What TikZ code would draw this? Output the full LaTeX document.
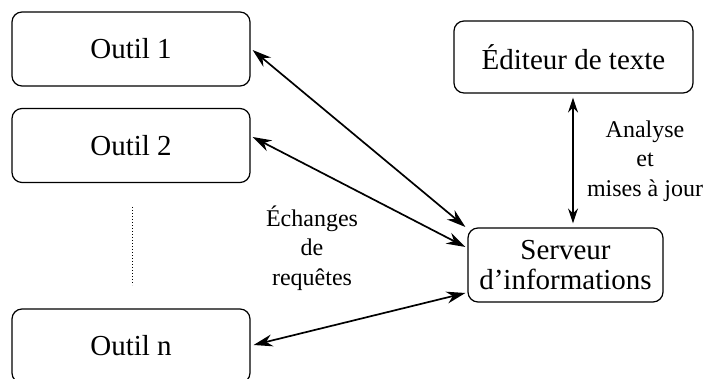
\documentclass[tikz,border=0pt]{standalone}
\usepackage{fontspec}
\setmainfont{Liberation Serif}
\usetikzlibrary{arrows.meta,calc}
\begin{document}
\begin{tikzpicture}[x=1pt,y=1pt,
  box/.style={draw,line width=1.2pt,rounded corners=10pt,minimum width=238pt,minimum height=74pt,inner sep=0pt,font=\fontsize{29}{30}\selectfont,align=center},
  lbl/.style={font=\fontsize{24}{29.5}\selectfont,align=center},
  conn/.style={line width=1.7pt,{Stealth[length=19pt,width=12pt]}-{Stealth[length=19pt,width=12pt]}}]
\useasboundingbox (0,0) rectangle (707,379);
\clip (0,0) rectangle (707,379);
\node[box] (o1) at (131,330) {Outil 1};
\node[box] (o2) at (131,233.5) {Outil 2};
\node[box] (on) at (131,33) {Outil n};
\node[box,minimum width=239pt,minimum height=72pt] (ed) at (573.5,322) {Éditeur de texte};
\node[box,minimum width=195pt,minimum height=74pt] (sv) at (565.5,114) {Serveur\\d’informations};
\coordinate (dt) at (132,172);
\coordinate (db) at (132,94);
\draw[line width=1pt,dotted] (dt) -- (db);
\draw[conn] ([xshift=2pt,yshift=-1pt]o1.east) -- ([xshift=-2pt,yshift=38pt]sv.west);
\draw[conn] ([xshift=2pt,yshift=8.5pt]o2.east) -- ([xshift=-2pt,yshift=18pt]sv.west);
\draw[conn] ([xshift=3pt,yshift=1pt]on.east) -- ([xshift=-2pt,yshift=-28pt]sv.west);
\draw[conn,{Stealth[length=15pt,width=10pt]}-{Stealth[length=15pt,width=10pt]}] ([xshift=-0.5pt,yshift=-4pt]ed.south) -- ([xshift=7.5pt,yshift=4pt]sv.north);
\node[lbl] (l1) at (312,131) {Échanges\\de\\requêtes};
\node[lbl] (l2) at (645,218) {Analyse\\et\\mises à jour};
\end{tikzpicture}
\end{document}
